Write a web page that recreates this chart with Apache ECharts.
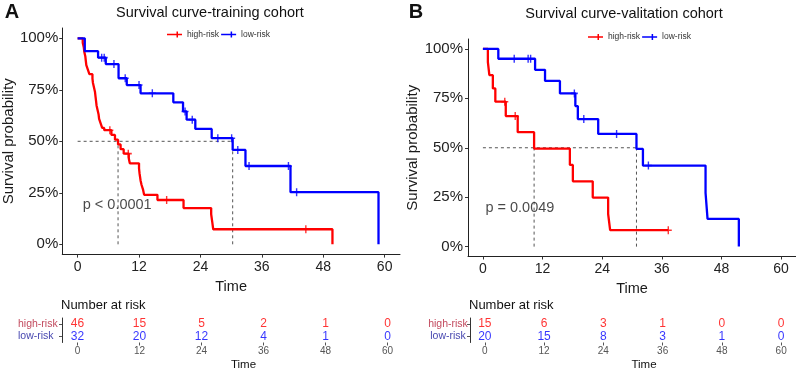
<!DOCTYPE html>
<html><head><meta charset="utf-8">
<script src="https://cdn.jsdelivr.net/npm/echarts@6/dist/echarts.min.js"></script>
<style>html,body{margin:0;padding:0;background:#fff}#c{width:796px;height:372px}</style>
</head><body><div id="c"></div>
<script>
// ---- data ----
const timeTicks = [0, 12, 24, 36, 48, 60];
const probTicks = [0, 0.25, 0.5, 0.75, 1];
const groups = ['high-risk', 'low-risk'];

// Panel A: training cohort (Kaplan-Meier steps: time, survival after the step)
const highA_t = [0,1.0,1.2,1.3,1.5,1.6,1.7,2.0,2.3,2.9,3.0,3.2,3.4,3.5,3.6,3.7,3.9,4.1,4.2,4.5,4.8,5.2,6.6,7.3,7.9,8.4,9.0,10.0,10.2,12.0,12.1,12.3,12.5,12.8,13.0,15.6,20.7,26.1,26.3,26.5,49.8];
const highA_s = [1,0.978,0.957,0.935,0.913,0.891,0.870,0.848,0.826,0.804,0.783,0.761,0.739,0.717,0.696,0.674,0.652,0.630,0.609,0.587,0.565,0.554,0.531,0.508,0.485,0.462,0.440,0.416,0.393,0.369,0.345,0.310,0.288,0.264,0.240,0.215,0.176,0.146,0.110,0.073,0];
const highA_cens = [6.3, 9.9, 17.4, 44.6];
const lowA_t = [0,1.4,4.0,5.5,8.0,9.6,12.3,18.7,20.6,21.3,23.0,26.2,30.3,32.8,41.6,58.8];
const lowA_s = [1,0.9375,0.906,0.875,0.806,0.773,0.733,0.689,0.645,0.605,0.560,0.515,0.458,0.380,0.253,0];
const lowA_cens = [4.7, 5.2, 7.1, 9.3, 12.0, 14.6, 21.0, 22.4, 27.4, 30.1, 31.3, 33.5, 41.2, 42.8];
const medianA = [7.9, 30.3];
const pTextA = 'p < 0.0001';
const pPosA = [1.0, 0.19];

// Panel B: validation cohort
const highB_t = [0,1.0,1.3,2.0,2.5,4.6,7.0,10.3,17.5,18.1,22.1,25.2,25.6,37.3];
const highB_s = [1,0.933,0.867,0.80,0.733,0.66,0.579,0.496,0.413,0.33,0.248,0.165,0.083,0.083];
const highB_cens = [4.4, 6.5, 37.3];
const lowB_t = [0,3.1,10.5,12.5,15.5,18.6,19.1,23.2,30.9,32.2,44.8,45.2,51.5];
const lowB_s = [1,0.95,0.894,0.838,0.775,0.711,0.645,0.570,0.494,0.410,0.272,0.140,0];
const lowB_cens = [6.3, 9.1, 9.6, 18.4, 20.3, 26.9, 33.3];
const medianB = [10.3, 30.9];
const pTextB = 'p = 0.0049';
const pPosB = [0.5, 0.196];

// Number at risk tables
const riskTimes = [0, 12, 24, 36, 48, 60];
const riskHighA = [46, 15, 5, 2, 1, 0];
const riskLowA  = [32, 20, 12, 4, 1, 0];
const riskHighB = [15, 6, 3, 1, 0, 0];
const riskLowB  = [20, 15, 8, 3, 1, 0];

// ---- styles ----
const RED = '#ff0000', BLUE = '#0000ff';
const FONT = '"Liberation Sans", Arial, sans-serif';
const PLUS = 'path://M0,4H10V6H0Z M4,0H6V10H4Z';

function stepAt(ts, ss, c) { let v = ss[0]; for (let i = 0; i < ts.length; i++) if (ts[i] <= c) v = ss[i]; return v; }

function km(name, ts, ss, color, gi) {
  return { type: 'line', name, xAxisIndex: gi, yAxisIndex: gi, step: 'end', symbol: 'none',
    data: ts.map((t, i) => [t, ss[i]]), lineStyle: { color, width: 2.3 }, itemStyle: { color },
    z: 3, silent: true };
}
function cens(name, ts, ss, cs, color, gi) {
  return { type: 'scatter', name, xAxisIndex: gi, yAxisIndex: gi, symbol: PLUS, symbolSize: [7, 8],
    data: cs.map(c => [c, stepAt(ts, ss, c)]), itemStyle: { color }, z: 4, silent: true };
}
function dash(gi, pts) {
  return { type: 'line', xAxisIndex: gi, yAxisIndex: gi, symbol: 'none', data: pts,
    lineStyle: { color: '#555', width: 1, type: [3, 3] }, z: 2, silent: true };
}
function medianLines(gi, med) {
  const mx = Math.max(...med);
  return [dash(gi, [[0, 0.5], [mx, 0.5]])].concat(med.map(m => dash(gi, [[m, 0], [m, 0.5]])));
}
function ptext(gi, txt, pos) {
  return { type: 'scatter', xAxisIndex: gi, yAxisIndex: gi, symbolSize: 0, data: [pos], silent: true,
    label: { show: true, position: 'right', distance: 0, formatter: txt, fontSize: 14.5, color: '#1a1a1a', fontFamily: FONT } };
}
function riskRow(gi, grp, vals, color) {
  return { type: 'scatter', xAxisIndex: gi, yAxisIndex: gi, symbolSize: 0, silent: true,
    data: riskTimes.map((t, i) => [t, grp, vals[i]]),
    label: { show: true, position: 'inside', formatter: p => String(p.value[2]), fontSize: 12, color, fontFamily: FONT } };
}

function mainX(gi) {
  return { type: 'value', gridIndex: gi, min: -3, max: 63, name: 'Time', nameLocation: 'middle', nameGap: 25,
    nameTextStyle: { fontSize: 14.5, color: '#1a1a1a', fontFamily: FONT },
    axisLine: { onZero: false, lineStyle: { color: '#222', width: 1 } },
    axisTick: { show: true, length: 3, customValues: timeTicks, lineStyle: { color: '#333' } },
    axisLabel: { customValues: timeTicks, fontSize: 14, color: '#222', margin: 6, fontFamily: FONT },
    splitLine: { show: false } };
}
function mainY(gi, gap, margin) {
  return { type: 'value', gridIndex: gi, min: -0.05, max: 1.05, name: 'Survival probability', nameLocation: 'middle',
    nameRotate: 90, nameGap: gap, nameTextStyle: { fontSize: 15, color: '#1a1a1a', fontFamily: FONT },
    axisLine: { show: true, onZero: false, lineStyle: { color: '#222', width: 1 } },
    axisTick: { show: true, length: 3, customValues: probTicks, lineStyle: { color: '#333' } },
    axisLabel: { customValues: probTicks, fontSize: 15, color: '#222', margin: margin, fontFamily: FONT,
      formatter: v => Math.round(v * 100) + '%' },
    splitLine: { show: false } };
}
function tabX(gi, pad) {
  return { type: 'value', gridIndex: gi, min: -3, max: 63, name: 'Time', nameLocation: 'middle', nameGap: 16,
    nameTextStyle: { fontSize: 11.5, color: '#111', fontFamily: FONT, padding: [0, 0, 0, pad] },
    axisLine: { onZero: false, lineStyle: { color: '#333', width: 1 } },
    axisTick: { show: true, length: 3, customValues: riskTimes, lineStyle: { color: '#555' } },
    axisLabel: { customValues: riskTimes, fontSize: 10, color: '#555', margin: 4, fontFamily: FONT },
    splitLine: { show: false } };
}
function tabY(gi, align, margin) {
  return { type: 'category', gridIndex: gi, data: ['low-risk', 'high-risk'],
    axisLine: { show: true, onZero: false, lineStyle: { color: '#333', width: 1 } },
    axisTick: { show: true, length: 3, alignWithLabel: true, interval: 0, lineStyle: { color: '#555' } },
    axisLabel: { fontSize: 10.5, margin: margin, align: align, interval: 0, hideOverlap: false, fontFamily: FONT,
      color: v => v === 'high-risk' ? '#c24a5e' : '#4848b0' },
    splitLine: { show: false } };
}
function legend(left, top) {
  return { left, top, padding: 0, itemGap: 2, itemWidth: 15, itemHeight: 6, data: groups,
    icon: 'path://M0,2.2H15V3.8H0Z M9.5,0H11V6H9.5Z',
    textStyle: { fontSize: 8.5, color: '#333', fontFamily: FONT }, selectedMode: false };
}
function txt(x, y, s, size, weight, align) {
  return { type: 'text', x, y, silent: true,
    style: { text: s, fontSize: size, fontWeight: weight || 'normal', fill: '#111', fontFamily: FONT,
      align: align || 'center', verticalAlign: 'middle' } };
}

const option = {
  backgroundColor: '#fff',
  animation: false,
  grid: [
    { left: 61, top: 28, width: 339, height: 226.6 },
    { left: 468, top: 39, width: 332, height: 217.5 },
    { left: 62, top: 318, width: 341, height: 24.5 },
    { left: 470, top: 318, width: 327, height: 24.5 }
  ],
  xAxis: [mainX(0), mainX(1), tabX(2, 22), tabX(3, 22)],
  yAxis: [mainY(0, 42.5, 4), mainY(1, 44.5, 5), tabY(2, 'left', 44), tabY(3, 'center', 22)],
  legend: [legend(167, 30), legend(588, 32.5)],
  graphic: [
    txt(210, 13, 'Survival curve-training cohort', 14.5),
    txt(624, 14, 'Survival curve-valitation cohort', 14.5),
    txt(12, 12.5, 'A', 20, 'bold'),
    txt(416, 12.5, 'B', 20, 'bold'),
    txt(61, 305.7, 'Number at risk', 13, 'normal', 'left'),
    txt(469, 305.7, 'Number at risk', 13, 'normal', 'left')
  ],
  series: [
    ...medianLines(0, medianA),
    km('high-risk', highA_t, highA_s, RED, 0),
    km('low-risk', lowA_t, lowA_s, BLUE, 0),
    cens('high-risk', highA_t, highA_s, highA_cens, RED, 0),
    cens('low-risk', lowA_t, lowA_s, lowA_cens, BLUE, 0),
    ptext(0, pTextA, pPosA),
    ...medianLines(1, medianB),
    km('high-risk', highB_t, highB_s, RED, 1),
    km('low-risk', lowB_t, lowB_s, BLUE, 1),
    cens('high-risk', highB_t, highB_s, highB_cens, RED, 1),
    cens('low-risk', lowB_t, lowB_s, lowB_cens, BLUE, 1),
    ptext(1, pTextB, pPosB),
    riskRow(2, 'high-risk', riskHighA, RED),
    riskRow(2, 'low-risk', riskLowA, BLUE),
    riskRow(3, 'high-risk', riskHighB, RED),
    riskRow(3, 'low-risk', riskLowB, BLUE)
  ]
};
const chart = echarts.init(document.getElementById('c'));
chart.setOption(option);
</script></body></html>
